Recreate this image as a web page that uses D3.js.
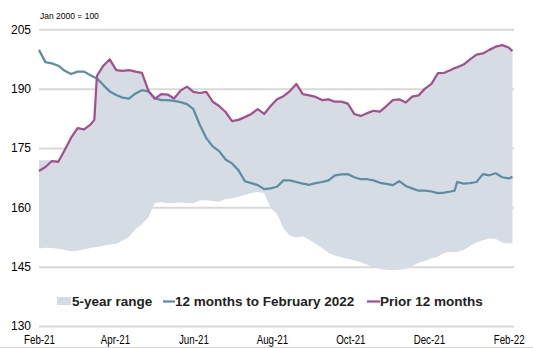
<!DOCTYPE html>
<html><head><meta charset="utf-8">
<script src="https://cdn.jsdelivr.net/npm/d3@7"></script>
<style>html,body{margin:0;padding:0;background:#fff;} svg{display:block;}</style>
</head><body>
<svg id="chart" width="533" height="348"></svg>
<script>
const dates = ["2021-02-01","2021-02-06","2021-02-11","2021-02-16","2021-02-21","2021-02-26","2021-03-03","2021-03-08","2021-03-13","2021-03-16","2021-03-18","2021-03-23","2021-03-28","2021-04-02","2021-04-07","2021-04-12","2021-04-17","2021-04-22","2021-04-27","2021-05-02","2021-05-07","2021-05-12","2021-05-17","2021-05-22","2021-05-27","2021-06-01","2021-06-06","2021-06-11","2021-06-16","2021-06-21","2021-06-26","2021-07-01","2021-07-06","2021-07-11","2021-07-16","2021-07-21","2021-07-26","2021-07-31","2021-08-05","2021-08-10","2021-08-15","2021-08-20","2021-08-25","2021-08-30","2021-09-04","2021-09-09","2021-09-14","2021-09-19","2021-09-24","2021-09-29","2021-10-04","2021-10-09","2021-10-14","2021-10-19","2021-10-24","2021-10-29","2021-11-03","2021-11-08","2021-11-13","2021-11-18","2021-11-23","2021-11-28","2021-12-03","2021-12-08","2021-12-13","2021-12-18","2021-12-21","2021-12-23","2021-12-28","2022-01-02","2022-01-07","2022-01-12","2022-01-17","2022-01-22","2022-01-27","2022-02-01","2022-02-04"];

const rangeLow = [149.6,149.8,149.7,149.5,149.2,148.9,149.0,149.4,149.7,149.9,
  150.0,150.3,150.6,150.8,151.6,152.5,154.5,155.7,157.5,161.1,
  161.3,161.0,161.1,161.2,161.1,161.0,161.7,161.8,161.6,161.4,
  162.1,162.3,162.7,163.1,163.6,163.9,163.6,159.9,158.3,154.7,
  152.8,152.4,152.7,151.8,150.8,149.7,148.5,147.8,147.4,147.0,
  146.6,146.1,145.5,144.9,144.4,144.2,144.1,144.2,144.4,145.1,
  146.0,146.4,147.1,147.5,148.5,148.7,148.7,148.7,149.2,150.2,
  151.2,151.7,152.1,152.0,151.1,150.9,150.9];

const rangeHigh = [171.9,171.9,171.9,171.9,174.5,177.6,180.0,179.7,180.9,182.1,
  193.2,195.8,197.4,194.7,194.5,194.7,194.3,194.0,189.5,187.4,
  188.6,188.5,187.5,189.5,190.5,189.2,188.9,189.2,186.7,185.6,
  184.1,181.8,182.1,182.8,183.6,184.8,183.6,185.6,187.3,188.1,
  189.4,191.2,188.6,188.3,187.9,187.1,187.3,186.7,186.7,186.2,
  183.6,183.1,183.8,184.4,184.2,185.6,187.1,187.3,186.5,188.0,
  188.3,190.0,191.2,193.9,194.0,194.7,195.2,195.4,196.1,197.4,
  198.6,198.9,199.8,200.6,201.0,200.4,199.5];

const months12ToFeb2022 = [199.8,196.7,196.4,195.8,194.5,193.7,194.3,194.3,193.4,192.9,
  192.6,190.9,189.3,188.4,187.7,187.5,188.8,189.6,189.3,187.6,
  187.1,187.1,186.9,186.6,186.1,184.8,180.8,177.5,175.4,174.2,
  172.1,171.1,169.4,166.6,166.1,165.6,164.6,164.8,165.2,166.8,
  166.8,166.4,166.0,165.7,166.1,166.4,166.8,168.1,168.3,168.4,
  167.6,167.1,167.1,166.8,166.2,165.9,165.6,166.6,165.4,164.8,
  164.2,164.2,164.0,163.6,163.7,164.0,164.2,166.4,166.0,166.1,
  166.4,168.4,168.1,168.6,167.6,167.3,167.7];

const prior12Months = [169.2,170.2,171.7,171.5,174.5,177.6,180.0,179.7,180.9,182.1,
  193.2,195.8,197.4,194.7,194.5,194.7,194.3,194.0,189.5,187.4,
  188.6,188.5,187.5,189.5,190.5,189.2,188.9,189.2,186.7,185.6,
  184.1,181.8,182.1,182.8,183.6,184.8,183.6,185.6,187.3,188.1,
  189.4,191.2,188.6,188.3,187.9,187.1,187.3,186.7,186.7,186.2,
  183.6,183.1,183.8,184.4,184.2,185.6,187.1,187.3,186.5,188.0,
  188.3,190.0,191.2,193.9,194.0,194.7,195.2,195.4,196.1,197.4,
  198.6,198.9,199.8,200.6,201.0,200.4,199.5];

const yTicks = [130, 145, 160, 175, 190, 205];
const xTickDates = ["2021-02-01","2021-04-01","2021-06-01","2021-08-01","2021-10-01","2021-12-01","2022-02-01"];
const xTickLabels = ["Feb-21","Apr-21","Jun-21","Aug-21","Oct-21","Dec-21","Feb-22"];
const legendLabels = ["5-year range", "12 months to February 2022", "Prior 12 months"];
const unitNote = "Jan 2000 = 100";

const colors = { range: "#d6dce4", current: "#5b8ea3", prior: "#a3508d", grid: "#d9d9d9" };

const parse = d3.utcParse("%Y-%m-%d");
const X = dates.map(parse);
const idx = d3.range(dates.length);

const svg = d3.select("#chart");
const left = 39, right = 514;
const x = d3.scaleUtc().domain([parse("2021-02-01"), parse("2022-02-04")]).range([39, 512.5]);
const y = d3.scaleLinear().domain([130, 205]).range([326, 29.3]);

// y axis with gridlines
const gy = svg.append("g").attr("transform", `translate(${left},0)`)
  .call(d3.axisLeft(y).tickValues(yTicks).tickSize(-(right - left)).tickPadding(8).tickFormat(d3.format("d")));
gy.select(".domain").remove();
gy.selectAll(".tick line").attr("stroke", colors.grid).attr("stroke-width", 2);
gy.selectAll(".tick text").attr("font-family", "'Liberation Sans', Arial, sans-serif").attr("font-size", 12).attr("fill", "#000");

// 5-year range area
svg.append("path").datum(idx)
  .attr("fill", colors.range)
  .attr("d", d3.area().x(i => x(X[i])).y0(i => y(rangeLow[i])).y1(i => y(rangeHigh[i])));

// lines
svg.append("path").datum(idx)
  .attr("fill", "none").attr("stroke", colors.current).attr("stroke-width", 2.25).attr("stroke-linejoin", "round")
  .attr("d", d3.line().x(i => x(X[i])).y(i => y(months12ToFeb2022[i])));
svg.append("path").datum(idx)
  .attr("fill", "none").attr("stroke", colors.prior).attr("stroke-width", 2.25).attr("stroke-linejoin", "round")
  .attr("d", d3.line().x(i => x(X[i])).y(i => y(prior12Months[i])));

// x axis
const gx = svg.append("g").attr("transform", "translate(0,326)")
  .call(d3.axisBottom(x).tickValues(xTickDates.map(parse)).tickSize(0).tickPadding(9).tickFormat((d, i) => xTickLabels[i]));
gx.select(".domain").remove();
gx.selectAll(".tick text").attr("font-family", "'Liberation Sans', Arial, sans-serif")
  .attr("font-size", 12.5).attr("fill", "#000")
  .each(function () {
    const w = this.getComputedTextLength();
    d3.select(this).attr("textLength", w * 0.78).attr("lengthAdjust", "spacingAndGlyphs");
  });

// unit note
svg.append("text").attr("x", 40).attr("y", 19.3).attr("font-family", "'Liberation Sans', Arial, sans-serif")
  .attr("font-size", 8.5).attr("fill", "#000").text(unitNote);

// legend
const lf = "'Liberation Sans', Arial, sans-serif";
const lg = svg.append("g");
lg.append("rect").attr("x", 57).attr("y", 297).attr("width", 14).attr("height", 8).attr("fill", colors.range);
lg.append("line").attr("x1", 163).attr("x2", 175).attr("y1", 301.5).attr("y2", 301.5).attr("stroke", colors.current).attr("stroke-width", 2.25);
lg.append("line").attr("x1", 367).attr("x2", 380).attr("y1", 301.5).attr("y2", 301.5).attr("stroke", colors.prior).attr("stroke-width", 2.25);
[[72, legendLabels[0]], [175, legendLabels[1]], [380, legendLabels[2]]].forEach(([tx, t]) => {
  lg.append("text").attr("x", tx).attr("y", 306).attr("font-family", lf).attr("font-weight", "bold")
    .attr("font-size", 13.5).attr("fill", "#222").text(t);
});

// bottom border
svg.append("line").attr("x1", 0).attr("x2", 533).attr("y1", 347.5).attr("y2", 347.5).attr("stroke", colors.grid).attr("stroke-width", 1);
</script>
</body></html>
